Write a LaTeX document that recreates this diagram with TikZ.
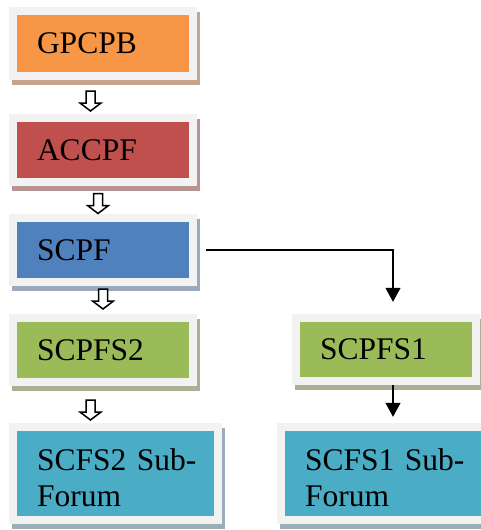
\documentclass[tikz,border=0pt]{standalone}
\usepackage{fontspec}
\setmainfont{Liberation Serif}
\usetikzlibrary{positioning,shadows,arrows.meta}

\definecolor{framegray}{HTML}{F2F2F2}
\definecolor{orangebox}{HTML}{F79646}
\definecolor{orangeshade}{HTML}{C8A48C}
\definecolor{redbox}{HTML}{C0504D}
\definecolor{redshade}{HTML}{B69494}
\definecolor{bluebox}{HTML}{4F81BD}
\definecolor{blueshade}{HTML}{9CA8BE}
\definecolor{greenbox}{HTML}{9BBB59}
\definecolor{greenshade}{HTML}{A8B096}
\definecolor{aquabox}{HTML}{4BACC6}
\definecolor{aquashade}{HTML}{9AAEB8}

\begin{document}
\begin{tikzpicture}[x=1pt,y=-1pt,
    box/.style n args={4}{minimum width=#1, minimum height=#2, text width=#3,
        fill=framegray, inner xsep=28pt, inner ysep=0pt, align=left,
        font=\fontsize{31.5}{36}\selectfont,
        drop shadow={shadow xshift=3pt, shadow yshift=-5pt, opacity=1, fill=#4shade},
        path picture={\fill[#4box] ([shift={(8pt,-8pt)}]path picture bounding box.north west)
            rectangle ([shift={(-8pt,8pt)}]path picture bounding box.south east);}},
    hollowdown/.pic={
        \draw[fill=white, line width=1.5pt, line join=miter]
            (-4.5,-10) -- (4.5,-10) -- (4.5,2) -- (10.5,2) -- (0,10)
            -- (-10.5,2) -- (-4.5,2) -- cycle;},
    link/.style={line width=1.3pt, -{Triangle[width=15pt,length=14pt]}}]
    \useasboundingbox (0,0) rectangle (480,530);

    \node[box={188pt}{73pt}{132pt}{orange}] (gpcpb)  at (103,43.5)  {GPCPB};
    \node[box={188pt}{72pt}{132pt}{red}]    (accpf)  at (103,150)   {ACCPF};
    \node[box={188pt}{72pt}{132pt}{blue}]   (scpf)   at (103,250)   {SCPF};
    \node[box={188pt}{72pt}{132pt}{green}]  (scpfs2) at (103,350)   {SCPFS2};
    \node[box={188pt}{71pt}{132pt}{green}]  (scpfs1) at (386,349.5) {SCPFS1};
    \node[box={213pt}{101pt}{157pt}{aqua}]  (scfs2)  at (115.5,473.5) {\rule{0pt}{30pt}\mbox{SCFS2 Sub-}\\Forum};
    \node[box={213pt}{101pt}{157pt}{aqua}]  (scfs1)  at (383.5,473.5) {\rule{0pt}{30pt}\mbox{SCFS1 Sub-}\\Forum};

    \foreach \x/\y [count=\i] in {90.5/101, 98/203.5, 103/299, 90.5/410}
        \pic (down\i) at (\x,\y) {hollowdown};

    \draw[link] ([xshift=9pt]scpf.east) -| ([xshift=7pt,yshift=12pt]scpfs1.north);
    \draw[link] ([xshift=7pt]scpfs1.south) -- ([xshift=9.5pt,yshift=6pt]scfs1.north);
\end{tikzpicture}
\end{document}
